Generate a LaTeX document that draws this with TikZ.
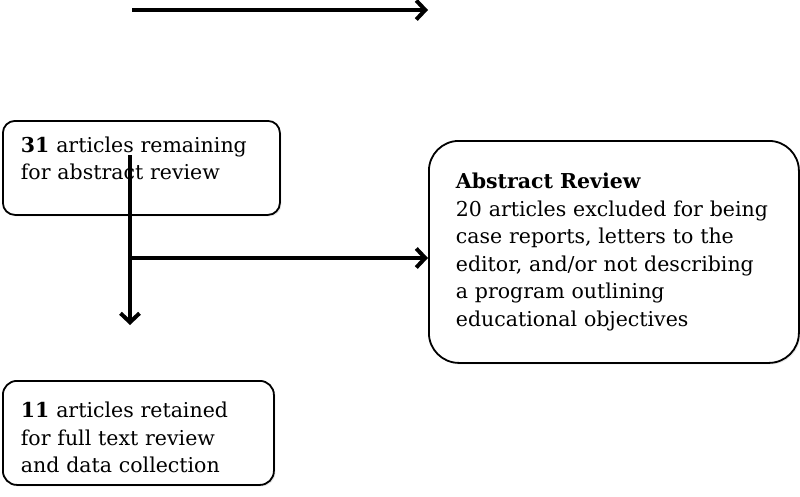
\documentclass[tikz,border=0pt]{standalone}
\usepackage{fontspec}
\setmainfont{DejaVu Serif}
\usetikzlibrary{arrows.meta,shadows}
\begin{document}
\begin{tikzpicture}[x=1pt,y=-1pt,
  box/.style={draw=black, line width=1.8pt, fill=white, align=left, anchor=north west,
    inner ysep=0pt, font=\fontsize{20.5}{27.5}\selectfont,
    drop shadow={opacity=0.2, shadow xshift=1.5pt, shadow yshift=-1.5pt}},
  conn/.style={line width=4pt, -{Straight Barb[length=9pt,width=19pt,line width=4pt]}}]
\useasboundingbox (0,0) rectangle (800,496);
\node[box, rounded corners=12pt, inner xsep=18pt, text width=241pt, minimum height=94pt] (b1) at (2,120)
  {\textbf{31} articles remaining\\for abstract review\rule[-19pt]{0pt}{0pt}};
\node[box, rounded corners=30pt, inner xsep=27pt, text width=316pt, minimum height=222pt] (b2) at (428,140)
  {\textbf{Abstract Review}\\20 articles excluded for being\\case reports, letters to the\\editor, and/or not describing\\a program outlining\\educational objectives};
\node[box, rounded corners=14pt, inner xsep=18pt, text width=235pt, minimum height=104pt] (b3) at (2,380)
  {\rule{0pt}{25pt}\textbf{11} articles retained\\for full text review\\and data collection};
\coordinate (t1) at (132,10);
\coordinate (t2) at (428,10);
\coordinate (v1) at (130,155);
\coordinate (v2) at (130,325);
\coordinate (h1) at (130,258);
\draw[conn] (t1) -- (t2);
\draw[conn] (v1) -- (v2);
\draw[conn] (h1) -- (h1 -| b2.west);
\end{tikzpicture}
\end{document}
